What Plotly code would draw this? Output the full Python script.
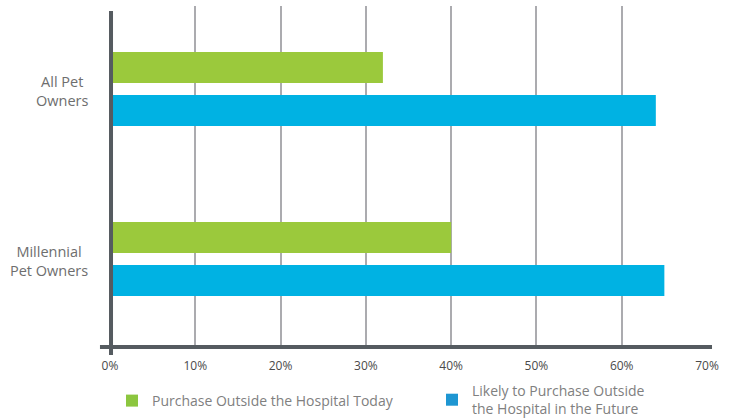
import plotly.graph_objects as go

categories = ["All Pet<br>Owners", "Millennial<br>Pet Owners"]
series_names = ["Purchase Outside the Hospital Today",
                "Likely to Purchase Outside<br>the Hospital in the Future"]
today_values = [32, 40]
future_values = [64, 65]
tick_values = [0, 10, 20, 30, 40, 50, 60, 70]
tick_labels = [f"{v}%" for v in tick_values]
grid_values = [10, 20, 30, 40, 50, 60]

BAR_GREEN = "#9bc93c"
BAR_BLUE = "#00b2e3"
LEG_GREEN = "#8cc63f"
LEG_BLUE = "#1e96d2"
AXIS_DARK = "#555b60"
FONT = "'Open Sans', Lato, sans-serif"

fig = go.Figure()
fig.add_trace(go.Bar(y=categories, x=today_values, orientation="h",
                     marker=dict(color=BAR_GREEN, line=dict(width=0)),
                     name=series_names[0], showlegend=False))
fig.add_trace(go.Bar(y=categories, x=future_values, orientation="h",
                     marker=dict(color=BAR_BLUE, line=dict(width=0)),
                     name=series_names[1], showlegend=False))

# legend-only entries (legend swatch colours differ slightly from the bars)
for name, col, lg in zip(series_names, [LEG_GREEN, LEG_BLUE], ["legend", "legend2"]):
    fig.add_trace(go.Scatter(x=[None], y=[None], mode="markers", xaxis="x2",
                             marker=dict(symbol="square", size=12, color=col),
                             name=name, showlegend=True, legend=lg))

for cat in categories:
    fig.add_annotation(x=-0.033, xref="paper", y=cat, yref="y", yshift=-2,
                       text=cat, showarrow=False, xanchor="right", align="center",
                       font=dict(family=FONT, size=14.5, color="#6e6e6e"))

legend_common = dict(orientation="h", xref="container", yref="container",
                     xanchor="left", yanchor="middle", valign="middle",
                     font=dict(family=FONT, size=14, color="#808080"),
                     bgcolor="rgba(0,0,0,0)")

fig.update_layout(
    width=730, height=419, autosize=False,
    margin=dict(l=110, r=23, t=6, b=72, autoexpand=False),
    paper_bgcolor="white", plot_bgcolor="white",
    barmode="group", bargap=0.494, bargroupgap=0.28,
    font=dict(family=FONT),
    xaxis=dict(range=[0, 70], tickmode="array", tickvals=tick_values, ticktext=tick_labels,
               showgrid=False, zeroline=False, showline=False, ticks="",
               ticklabelstandoff=10,
               tickfont=dict(family=FONT, size=12, color="#4a4a4a")),
    xaxis2=dict(range=[0, 70], overlaying="x", tickmode="array", tickvals=grid_values,
                showgrid=True, gridcolor="#ababaf", gridwidth=1.6,
                showticklabels=False, zeroline=False, showline=False, ticks=""),
    yaxis=dict(range=[1.518, -0.488], showticklabels=False, showgrid=False,
               zeroline=False, showline=False, ticks=""),
    showlegend=True,
    legend=dict(x=112 / 730, y=(419 - 401) / 419, **legend_common),
    legend2=dict(x=432 / 730, y=(419 - 400) / 419, **legend_common),
    shapes=[
        dict(type="line", xref="paper", yref="paper", x0=0.0017, x1=0.0017,
             y0=0.985, y1=-0.0235, line=dict(color=AXIS_DARK, width=4), layer="above"),
        dict(type="line", xref="paper", yref="paper", x0=-0.0168, x1=1.0084,
             y0=0, y1=0, line=dict(color=AXIS_DARK, width=4), layer="above"),
    ],
)

fig.write_html("out.html", config={"displayModeBar": False},
               post_script="document.body.style.margin='0px';")
